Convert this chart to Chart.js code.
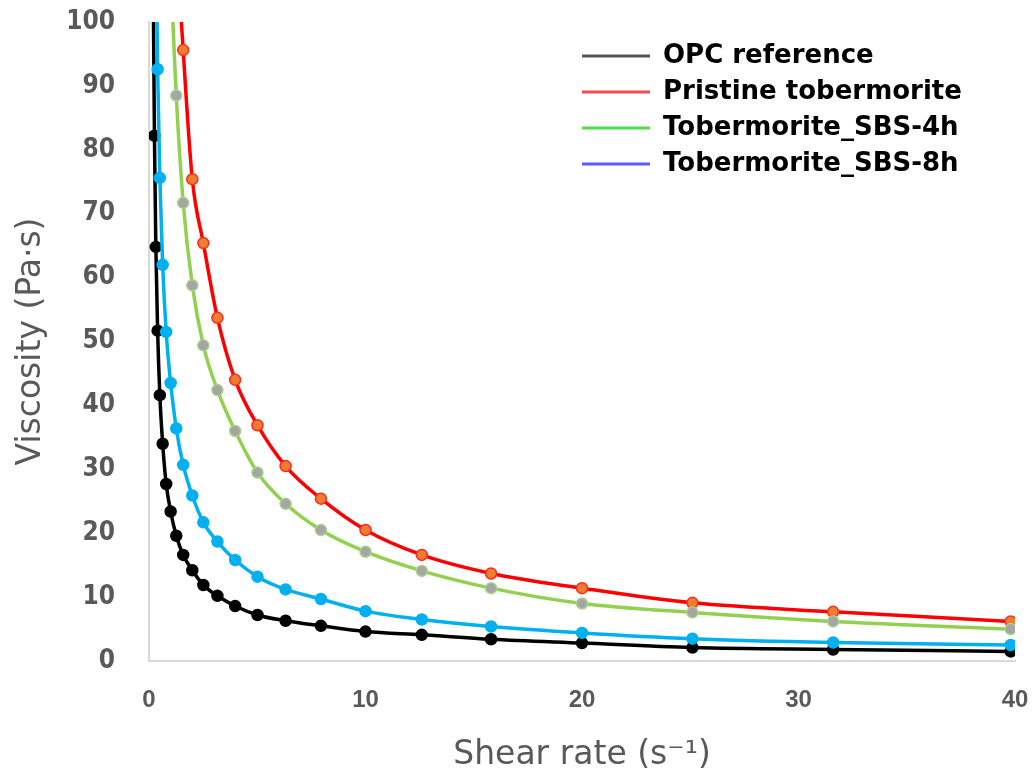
<!DOCTYPE html>
<html lang="en">
<head>
<meta charset="UTF-8">
<title>Viscosity vs shear rate</title>
<script src="https://cdn.jsdelivr.net/npm/chart.js"></script>
<style>
  html, body { margin: 0; padding: 0; background: #fff; }
</style>
</head>
<body>
<canvas id="chart" width="1036" height="780"></canvas>
<script>
// shear rate steps (s^-1), 5 per decade
const shearRate = [0.158, 0.2, 0.251, 0.316, 0.398, 0.501, 0.631, 0.794, 1, 1.26, 1.58, 2, 2.51, 3.16, 3.98, 5.01, 6.31, 7.94, 10, 12.6, 15.8, 20, 25.1, 31.6, 39.8];

// viscosity (Pa·s); first values run off the top of the plot
const opcRef   = [130, 103, 82.2, 64.8, 51.7, 41.6, 34.0, 27.7, 23.4, 19.6, 16.6, 14.2, 11.9, 10.2, 8.6, 7.2, 6.3, 5.5, 4.6, 4.1, 3.4, 2.8, 2.1, 1.8, 1.5];
const pristine = [null, null, null, null, null, null, null, null, 145, 115, 95.6, 75.4, 65.4, 53.7, 44.0, 36.9, 30.5, 25.4, 20.5, 16.6, 13.7, 11.4, 9.1, 7.7, 6.2];
const sbs4h    = [null, null, null, null, null, null, null, 140, 110, 88.5, 71.7, 58.8, 49.4, 42.4, 36.0, 29.5, 24.6, 20.5, 17.1, 14.1, 11.4, 9.0, 7.6, 6.2, 5.0];
const sbs8h    = [null, null, 145, 115, 92.6, 75.6, 62.0, 51.5, 43.5, 36.4, 30.7, 25.9, 21.7, 18.7, 15.8, 13.2, 11.2, 9.7, 7.8, 6.5, 5.4, 4.4, 3.5, 2.9, 2.5];

const seriesNames = ['OPC reference', 'Pristine tobermorite', 'Tobermorite_SBS-4h', 'Tobermorite_SBS-8h'];
const xTicks = [0, 10, 20, 30, 40];
const yTicks = [0, 10, 20, 30, 40, 50, 60, 70, 80, 90, 100];

function toPoints(values) {
  return shearRate.map((x, i) => ({ x: x, y: values[i] })).filter(p => p.y !== null);
}

const lineColors   = ['#000000', '#ff0000', '#92d050', '#00b0f0'];
const markerFill   = ['#000000', '#ed7d31', '#a5a5a5', '#00b0f0'];
const markerBorder = ['#000000', '#ff2a1a', '#a9d18e', '#00b0f0'];
const legendColors = ['#555555', '#ff4a4a', '#4ddf4d', '#5a5aff'];

const allSeries = [opcRef, pristine, sbs4h, sbs8h];

const datasets = allSeries.map((vals, i) => ({
  label: seriesNames[i],
  data: toPoints(vals),
  borderColor: lineColors[i],
  borderWidth: 3.5,
  backgroundColor: markerFill[i],
  pointBackgroundColor: markerFill[i],
  pointBorderColor: markerBorder[i],
  pointBorderWidth: 1.5,
  pointRadius: 5.5,
  cubicInterpolationMode: 'monotone',
  order: 4 - i
}));

// put the legend in the top right corner of the plot
const legendMove = {
  id: 'legendMove',
  afterLayout(chart) {
    chart.legend.left = 572;
    chart.legend.top = 33;
  }
};

const tickGrey = '#595959';

new Chart(document.getElementById('chart').getContext('2d'), {
  type: 'line',
  data: { datasets: datasets },
  plugins: [legendMove],
  options: {
    responsive: false,
    animation: false,
    layout: { padding: { top: 22, right: 21, left: 0, bottom: 0 } },
    plugins: {
      tooltip: { enabled: false },
      legend: {
        position: 'chartArea',
        align: 'start',
        labels: {
          usePointStyle: true,
          pointStyle: 'line',
          pointStyleWidth: 68,
          padding: 10,
          color: '#000',
          font: { family: 'DejaVu Sans', size: 26, weight: 'bold' },
          generateLabels: () => seriesNames.map((name, i) => ({
            text: name,
            strokeStyle: legendColors[i],
            fillStyle: legendColors[i],
            lineWidth: 3,
            pointStyle: 'line',
            hidden: false,
            datasetIndex: i
          }))
        }
      }
    },
    scales: {
      x: {
        type: 'linear',
        min: 0,
        max: 40,
        afterFit: s => { s.height = 119; s.paddingLeft = 0; s.paddingRight = 0; },
        afterBuildTicks: s => { s.ticks = xTicks.map(v => ({ value: v })); },
        grid: { display: false, drawTicks: false },
        border: { display: true, color: '#d9d9d9', width: 2 },
        ticks: {
          padding: 25,
          color: tickGrey,
          font: { family: 'Liberation Sans', size: 24, weight: 'bold' }
        },
        title: {
          display: true,
          text: 'Shear rate (s\u207B\u00B9)',
          color: tickGrey,
          font: { family: 'DejaVu Sans', size: 33 },
          padding: { top: 0, bottom: 5 }
        }
      },
      y: {
        min: 0,
        max: 100,
        afterFit: s => { s.width = 149; s.paddingTop = 0; s.paddingBottom = 0; },
        afterBuildTicks: s => { s.ticks = yTicks.map(v => ({ value: v })); },
        grid: { display: false, drawTicks: false },
        border: { display: true, color: '#d9d9d9', width: 2 },
        ticks: {
          padding: 34,
          color: tickGrey,
          font: { family: "'DejaVu Sans Condensed', 'DejaVu Sans'", size: 26, weight: 'bold' }
        },
        title: {
          display: true,
          text: 'Viscosity (Pa\u00B7s)',
          color: tickGrey,
          font: { family: 'DejaVu Sans', size: 33 },
          padding: { top: 12, bottom: 0 }
        }
      }
    }
  }
});
</script>
</body>
</html>
